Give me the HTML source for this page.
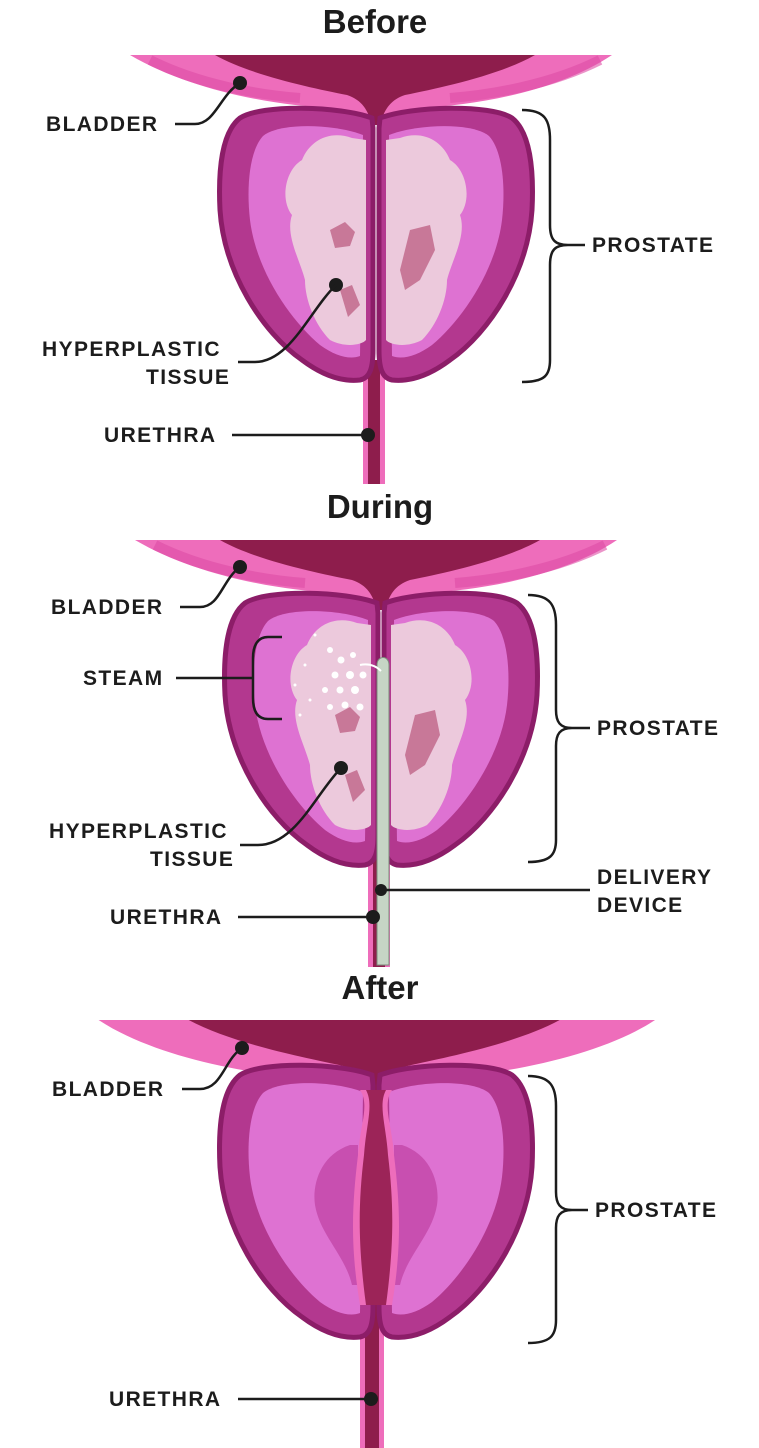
<!DOCTYPE html>
<html><head><meta charset="utf-8"><style>
body{margin:0;background:#fff;width:759px;height:1448px;overflow:hidden}
svg{display:block}
text{font-family:"Liberation Sans",sans-serif;font-weight:bold;fill:#1c1c1c}
.l{font-size:21px;letter-spacing:1.4px}
.t{font-size:33px}
.ln{stroke:#1c1c1c;stroke-width:2.5;fill:none}
</style></head><body>
<svg width="759" height="1448" viewBox="0 0 759 1448">
<defs>
<path id="lobeL" d="M372,118 C340,106 262,104 240,118 C222,132 218,170 220,210 C224,272 262,332 302,360 C322,375 342,382 360,380 C370,378 373,368 373,350 L373,128 Z"/>
<path id="lobeLi" d="M363,135 C335,124 280,122 263,136 C250,150 246,185 250,220 C256,270 290,320 320,345 C335,356 350,360 360,356 Z"/>
<path id="tis" d="M352,138 C330,130 310,140 302,160 C285,170 280,200 292,215 C285,235 300,260 305,280 C305,300 315,325 330,340 C345,348 362,345 366,340 L366,140 Z"/>
<g id="bladder">
<path d="M130,55 L612,55 C560,90 480,105 420,108 C400,110 390,118 385,125 L368,125 C362,118 352,110 332,108 C270,105 190,90 130,55 Z" fill="#ee6dbb"/>
<path d="M150,60 C200,85 260,95 300,98" stroke="#dd4ca5" stroke-width="10" fill="none" opacity=".6"/>
<path d="M600,60 C550,85 490,95 450,98" stroke="#dd4ca5" stroke-width="10" fill="none" opacity=".6"/>
<path d="M215,55 L535,55 C500,75 440,88 405,95 C390,100 384,110 380,125 L372,125 C368,110 362,100 347,95 C312,88 250,75 215,55 Z" fill="#8e1d4c"/>
</g>
<g id="lobes">
<use href="#lobeL" fill="#b3388f" stroke="#8c1d68" stroke-width="5"/>
<use href="#lobeLi" fill="#de72d2"/>
<g transform="translate(752,0) scale(-1,1)">
<use href="#lobeL" fill="#b3388f" stroke="#8c1d68" stroke-width="5"/>
<use href="#lobeLi" fill="#de72d2"/>
</g>
</g>
</defs>

<!-- BEFORE -->
<text class="t" x="375" y="33" text-anchor="middle">Before</text>
<rect x="363" y="360" width="22" height="124" fill="#ee6dbb"/>
<rect x="368" y="360" width="12" height="124" fill="#8e1d4c"/>
<use href="#bladder"/>
<use href="#lobes"/>
<use href="#tis" fill="#ecc9dc"/>
<g transform="translate(752,0) scale(-1,1)"><use href="#tis" fill="#ecc9dc"/></g>
<path d="M330,230 l15,-8 l10,10 l-5,14 l-15,2 z M340,290 l12,-5 l8,20 l-12,12 z M410,230 l20,-5 l5,25 l-15,30 l-15,10 l-5,-20 z" fill="#c87898"/>
<circle cx="240" cy="83" r="7" fill="#1c1c1c"/>
<path class="ln" d="M175,124 H195 C215,124 220,95 240,83"/>
<text class="l" x="46" y="131">BLADDER</text>
<path class="ln" d="M522,110 C545,110 550,120 550,140 V225 C550,240 555,245 568,245 H585 M568,245 C555,245 550,250 550,265 V360 C550,375 545,382 522,382"/>
<text class="l" x="592" y="252">PROSTATE</text>
<circle cx="336" cy="285" r="7" fill="#1c1c1c"/>
<path class="ln" d="M238,362 H255 C290,362 310,310 336,285"/>
<text class="l" x="42" y="356">HYPERPLASTIC</text>
<text class="l" x="146" y="384">TISSUE</text>
<circle cx="368" cy="435" r="7" fill="#1c1c1c"/>
<path class="ln" d="M232,435 H368"/>
<text class="l" x="104" y="442">URETHRA</text>

<!-- DURING -->
<text class="t" x="380" y="518" text-anchor="middle">During</text>
<g transform="translate(5,485)">
<rect x="363" y="360" width="22" height="122" fill="#ee6dbb"/>
<rect x="368" y="360" width="12" height="122" fill="#8e1d4c"/>
<use href="#bladder"/>
<use href="#lobes"/>
<use href="#tis" fill="#ecc9dc"/>
<g transform="translate(752,0) scale(-1,1)"><use href="#tis" fill="#ecc9dc"/></g>
<path d="M330,230 l15,-8 l10,10 l-5,14 l-15,2 z M340,290 l12,-5 l8,20 l-12,12 z M410,230 l20,-5 l5,25 l-15,30 l-15,10 l-5,-20 z" fill="#c87898"/>
<g fill="#fff">
<circle cx="325" cy="165" r="3"/><circle cx="336" cy="175" r="3.5"/><circle cx="348" cy="170" r="3"/><circle cx="330" cy="190" r="3.5"/><circle cx="345" cy="190" r="4"/><circle cx="358" cy="190" r="3.5"/><circle cx="320" cy="205" r="3"/><circle cx="335" cy="205" r="3.5"/><circle cx="350" cy="205" r="4"/><circle cx="325" cy="222" r="3"/><circle cx="340" cy="220" r="3.5"/><circle cx="355" cy="222" r="3.5"/><circle cx="300" cy="180" r="1.5"/><circle cx="290" cy="200" r="1.5"/><circle cx="305" cy="215" r="1.5"/><circle cx="295" cy="230" r="1.5"/><circle cx="310" cy="150" r="1.5"/>
</g>
<path d="M372,180 L372,480 L384,480 L384,180 C384,170 372,170 372,180 Z" fill="#c6d5c5" stroke="#7c8c7c" stroke-width="1"/>
<path d="M355,180 C365,178 372,182 376,186" stroke="#fff" stroke-width="2" fill="none"/>
</g>
<circle cx="240" cy="567" r="7" fill="#1c1c1c"/>
<path class="ln" d="M180,607 H200 C220,607 222,580 240,567"/>
<text class="l" x="51" y="614">BLADDER</text>
<path class="ln" d="M282,637 H268 C258,637 253,645 253,658 V698 C253,712 258,719 268,719 H282 M253,678 H176"/>
<text class="l" x="83" y="685">STEAM</text>
<path class="ln" d="M528,595 C550,595 556,605 556,625 V710 C556,722 560,728 572,728 H590 M572,728 C560,728 556,734 556,746 V840 C556,855 550,862 528,862"/>
<text class="l" x="597" y="735">PROSTATE</text>
<circle cx="341" cy="768" r="7" fill="#1c1c1c"/>
<path class="ln" d="M240,845 H258 C295,845 315,795 341,768"/>
<text class="l" x="49" y="838">HYPERPLASTIC</text>
<text class="l" x="150" y="866">TISSUE</text>
<circle cx="381" cy="890" r="6" fill="#1c1c1c"/>
<path class="ln" d="M381,890 H555 C570,890 575,890 590,890"/>
<text class="l" x="597" y="884">DELIVERY</text>
<text class="l" x="597" y="912">DEVICE</text>
<circle cx="373" cy="917" r="7" fill="#1c1c1c"/>
<path class="ln" d="M238,917 H373"/>
<text class="l" x="110" y="924">URETHRA</text>

<!-- AFTER -->
<text class="t" x="380" y="999" text-anchor="middle">After</text>
<g transform="translate(0,965)">
<rect x="360" y="340" width="24" height="143" fill="#ee6dbb"/>
<rect x="365" y="340" width="14" height="143" fill="#8e1d4c"/>
<g transform="translate(0,0) scale(1.06,1) translate(-22,0)">
<path d="M115,55 L640,55 C590,90 500,110 420,115 C400,117 392,125 388,140 L364,140 C360,125 352,117 332,115 C250,110 165,90 115,55 Z" fill="#ee6dbb"/>
<path d="M200,55 L550,55 C510,78 445,92 410,100 C392,104 386,114 384,140 L368,140 C366,114 360,104 342,100 C307,92 240,78 200,55 Z" fill="#8e1d4c"/>
</g>
<g transform="translate(0,-8)">
<use href="#lobes"/>
</g>
<path d="M350,180 C320,190 312,220 315,240 C320,270 345,290 352,320 L358,320 L358,180 Z" fill="#c84fb0"/>
<path d="M402,180 C432,190 440,220 437,240 C432,270 407,290 400,320 L394,320 L394,180 Z" fill="#c84fb0"/>
<path d="M360,125 C370,140 360,160 358,190 C352,240 350,280 360,340 L392,340 C402,280 400,240 394,190 C392,160 382,140 392,125 Z" fill="#ee6dbb"/>
<path d="M366,125 C374,140 366,160 364,190 C358,240 358,280 366,340 L386,340 C394,280 394,240 388,190 C386,160 378,140 386,125 Z" fill="#9c2458"/>
</g>
<circle cx="242" cy="1048" r="7" fill="#1c1c1c"/>
<path class="ln" d="M182,1089 H200 C222,1089 224,1060 242,1048"/>
<text class="l" x="52" y="1096">BLADDER</text>
<path class="ln" d="M528,1076 C550,1076 556,1086 556,1106 V1192 C556,1204 560,1210 572,1210 H588 M572,1210 C560,1210 556,1216 556,1228 V1320 C556,1336 550,1343 528,1343"/>
<text class="l" x="595" y="1217">PROSTATE</text>
<circle cx="371" cy="1399" r="7" fill="#1c1c1c"/>
<path class="ln" d="M238,1399 H371"/>
<text class="l" x="109" y="1406">URETHRA</text>
</svg>
</body></html>
